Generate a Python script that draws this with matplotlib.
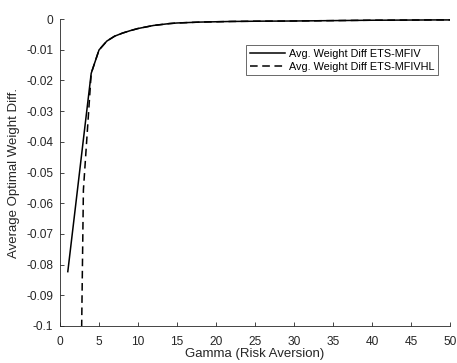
import matplotlib
matplotlib.use("Agg")
import matplotlib.pyplot as plt

plt.rcParams['font.family'] = ['Liberation Sans', 'DejaVu Sans']

gamma_mfiv = [1, 2, 3, 4, 5, 6, 7, 8, 9, 10, 11, 12, 13, 14, 15, 16, 17, 18, 19, 20,
              22, 24, 26, 28, 30, 32, 34, 36, 38, 40, 42, 44, 46, 48, 50]
diff_mfiv = [-0.0823, -0.0608, -0.0392, -0.0177, -0.0101, -0.0072, -0.0056, -0.0046,
             -0.0038, -0.0031, -0.0026, -0.0021, -0.0018, -0.0015, -0.0013, -0.0012,
             -0.0011, -0.0010, -0.00095, -0.0009, -0.0008, -0.00075, -0.0007, -0.00068,
             -0.00065, -0.0006, -0.00055, -0.0005, -0.00045, -0.0004, -0.00038, -0.00035,
             -0.00033, -0.0003, -0.0003]

gamma_mfivhl = gamma_mfiv[1:]
diff_mfivhl = [-0.256, -0.0557, -0.0177, -0.0101, -0.0072, -0.0056, -0.0046,
               -0.0038, -0.0031, -0.0026, -0.0021, -0.0018, -0.0015, -0.0013, -0.0012,
               -0.0011, -0.0010, -0.00095, -0.0009, -0.0008, -0.00075, -0.0007, -0.00068,
               -0.00065, -0.0006, -0.00055, -0.0005, -0.00045, -0.0004, -0.00038, -0.00035,
               -0.00033, -0.0003, -0.0003]

xticks = [0, 5, 10, 15, 20, 25, 30, 35, 40, 45, 50]
yticks = [0, -0.01, -0.02, -0.03, -0.04, -0.05, -0.06, -0.07, -0.08, -0.09, -0.1]
ytick_labels = ['0', '-0.01', '-0.02', '-0.03', '-0.04', '-0.05', '-0.06', '-0.07',
                '-0.08', '-0.09', '-0.1']

fig = plt.figure(figsize=(4.57, 3.63), dpi=100)
ax = fig.add_axes([60/457, 37/363, 390/457, 307/363])

ax.plot(gamma_mfiv, diff_mfiv, color='black', lw=1.1, label='Avg. Weight Diff ETS-MFIV')
ax.plot(gamma_mfivhl, diff_mfivhl, color='black', lw=1.1, ls=(0, (5, 3)),
        label='Avg. Weight Diff ETS-MFIVHL')

ax.set_xlim(0, 50)
ax.set_ylim(-0.1, 0)
ax.set_xticks(xticks)
ax.set_yticks(yticks)
ax.set_yticklabels(ytick_labels)
ax.tick_params(direction='in', length=3, width=0.6, labelsize=8.6, colors='#262626')
ax.tick_params(axis='x', pad=7)
ax.tick_params(axis='y', pad=5)
for s in ['top', 'right']:
    ax.spines[s].set_visible(False)
for s in ['left', 'bottom']:
    ax.spines[s].set_linewidth(0.6)
    ax.spines[s].set_color('#262626')

ax.set_xlabel('Gamma (Risk Aversion)', fontsize=9.5, color='#262626', labelpad=0)
ax.set_ylabel('Average Optimal Weight Diff.', fontsize=9.5, color='#262626', labelpad=4)

leg = ax.legend(loc='upper right', bbox_to_anchor=(0.969, 0.915), fontsize=7.8,
                frameon=True, fancybox=False, edgecolor='#262626', borderpad=0.35,
                handlelength=3.3, handletextpad=0.3, labelspacing=0.25, borderaxespad=0)
leg.get_frame().set_linewidth(0.6)

fig.savefig('out.png', dpi=100)
